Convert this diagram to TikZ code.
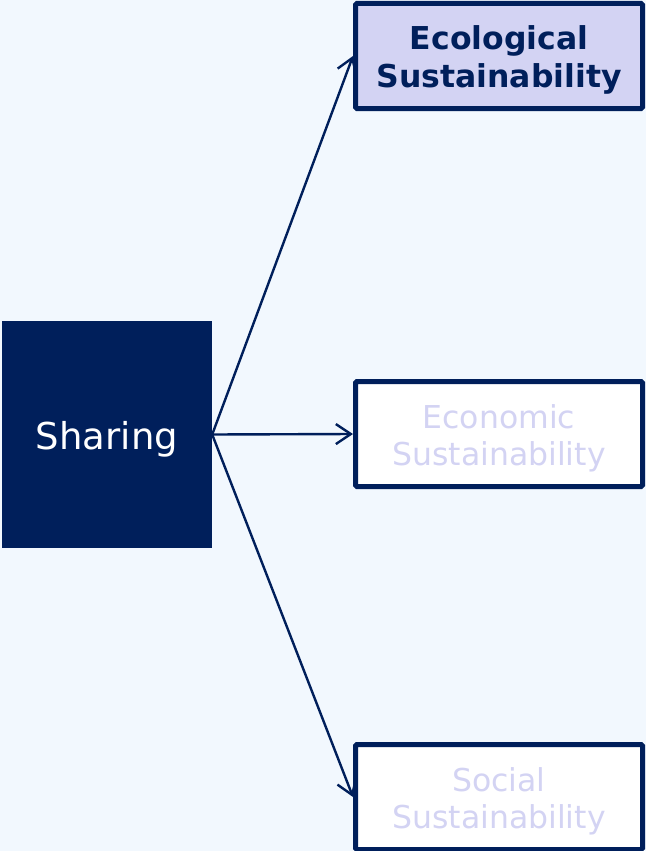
\documentclass[tikz,border=0pt]{standalone}
\usepackage{fontspec}
\setmainfont{DejaVu Sans}
\usetikzlibrary{arrows.meta}
\definecolor{navy}{RGB}{0,31,91}
\definecolor{lav}{RGB}{211,211,243}
\definecolor{bg}{RGB}{242,248,254}
\begin{document}
\begin{tikzpicture}[x=1pt,y=-1pt,
  sbox/.style={draw=navy,line width=5pt,rounded corners=1.5pt,minimum width=287pt,minimum height=105pt,align=center,inner sep=0pt,text height=63pt,text depth=0pt,font=\fontsize{31.5}{37.5}\selectfont},
  conn/.style={draw=navy,line width=2.4pt,-{Straight Barb[length=15pt,width=20pt,line width=2.4pt]}}]
\fill[bg] (0,0) rectangle (646,851);
\useasboundingbox (0,0) rectangle (646,851);
\node[fill=navy,minimum width=210pt,minimum height=227pt,inner sep=0pt,text height=30pt,text depth=0pt,text=white,font=\fontsize{37}{44}\selectfont] (share) at (107,434.5) {Sharing};
\node[sbox,fill=lav,text=navy,font=\fontsize{31.5}{37.5}\selectfont\bfseries] (eco) at (499,56) {Ecological\\Sustainability};
\node[sbox,fill=white,text=lav] (econ) at (499,434) {Economic\\Sustainability};
\node[sbox,fill=white,text=lav] (soc) at (499,797) {Social\\Sustainability};
\draw[conn] (share.east) -- (eco.west);
\draw[conn] (share.east) -- (econ.west);
\draw[conn] (share.east) -- (soc.west);
\end{tikzpicture}
\end{document}
